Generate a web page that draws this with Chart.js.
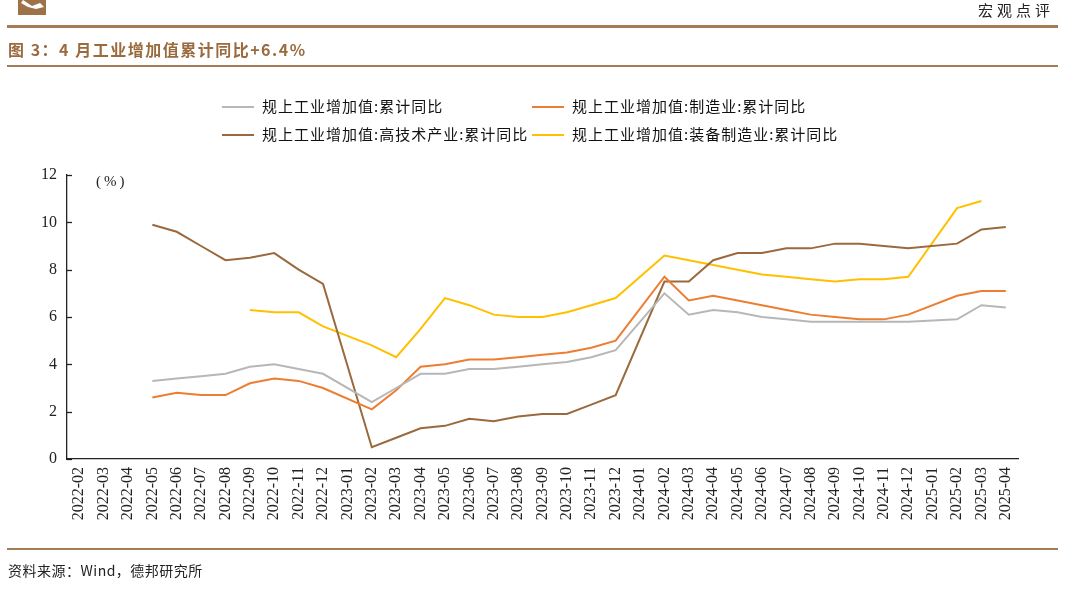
<!DOCTYPE html>
<html>
<head>
<meta charset="utf-8">
<script src="https://cdn.jsdelivr.net/npm/chart.js@4.4.1/dist/chart.umd.min.js"></script>
<style>
  html, body { margin: 0; padding: 0; background: #fff; }
  #wrap { position: relative; width: 1066px; height: 591px; overflow: hidden; font-family: "Noto Sans CJK SC", sans-serif; }
  #c { position: absolute; left: 0; top: 0; }
  .abs { position: absolute; white-space: nowrap; }
  .hline { position: absolute; left: 7px; width: 1051px; background: #a47d57; }
  .leg { position: absolute; height: 20px; font-size: 15px; color: #111; letter-spacing: 1px; line-height: 20px; }
  .leg i { display: inline-block; width: 32px; height: 2px; vertical-align: middle; margin-right: 8px; position: relative; top: -1px; }
</style>
</head>
<body>
<div id="wrap">
  <canvas id="c" width="1066" height="591"></canvas>
  <svg class="abs" style="left:18px;top:0px" width="28" height="15" viewBox="0 0 28 15">
    <rect x="0" y="0" width="28" height="15" fill="#9d7248"/>
    <path d="M5 0 L14 6 L22 3 L26 7 L18 9 L10 7 L3 3 Z" fill="#fff"/>
  </svg>
  <div class="abs" style="right:12px;top:-1px;font-size:15px;color:#222;letter-spacing:4px;">宏观点评</div>
  <div class="hline" style="top:25px;height:3px;"></div>
  <div class="abs" style="left:8px;top:37px;font-size:16px;font-weight:bold;color:#9a6b3f;letter-spacing:1.5px;">图 3：4 月工业增加值累计同比+6.4%</div>
  <div class="hline" style="top:65px;height:2px;"></div>

  <div class="leg" style="left:222px;top:96px;"><i style="background:#b7b7b7"></i>规上工业增加值:累计同比</div>
  <div class="leg" style="left:532px;top:96px;"><i style="background:#ed7d31"></i>规上工业增加值:制造业:累计同比</div>
  <div class="leg" style="left:222px;top:124px;"><i style="background:#9a6a3e"></i>规上工业增加值:高技术产业:累计同比</div>
  <div class="leg" style="left:532px;top:124px;"><i style="background:#ffc000"></i>规上工业增加值:装备制造业:累计同比</div>

  <div class="abs" style="left:96px;top:173px;font-size:15px;font-family:'Liberation Serif',serif;color:#222;letter-spacing:3px;">(%)</div>

  <div class="hline" style="top:548px;height:2px;"></div>
  <div class="abs" style="left:8px;top:560px;font-size:14px;color:#222;letter-spacing:0.5px;">资料来源：Wind，德邦研究所</div>
</div>
<script>
const categories = [
  "2022-02","2022-03","2022-04","2022-05","2022-06","2022-07","2022-08","2022-09","2022-10","2022-11","2022-12",
  "2023-01","2023-02","2023-03","2023-04","2023-05","2023-06","2023-07","2023-08","2023-09","2023-10","2023-11","2023-12",
  "2024-01","2024-02","2024-03","2024-04","2024-05","2024-06","2024-07","2024-08","2024-09","2024-10","2024-11","2024-12",
  "2025-01","2025-02","2025-03","2025-04"
];
const industryTotal = [null,null,null,3.3,3.4,3.5,3.6,3.9,4.0,3.8,3.6,
  null,2.4,3.0,3.6,3.6,3.8,3.8,3.9,4.0,4.1,4.3,4.6,
  null,7.0,6.1,6.3,6.2,6.0,5.9,5.8,5.8,5.8,5.8,5.8,
  null,5.9,6.5,6.4];
const manufacturing = [null,null,null,2.6,2.8,2.7,2.7,3.2,3.4,3.3,3.0,
  null,2.1,2.9,3.9,4.0,4.2,4.2,4.3,4.4,4.5,4.7,5.0,
  null,7.7,6.7,6.9,6.7,6.5,6.3,6.1,6.0,5.9,5.9,6.1,
  null,6.9,7.1,7.1];
const highTech = [null,null,null,9.9,9.6,9.0,8.4,8.5,8.7,8.0,7.4,
  null,0.5,0.9,1.3,1.4,1.7,1.6,1.8,1.9,1.9,2.3,2.7,
  null,7.5,7.5,8.4,8.7,8.7,8.9,8.9,9.1,9.1,9.0,8.9,
  null,9.1,9.7,9.8];
const equipment = [null,null,null,null,null,null,null,6.3,6.2,6.2,5.6,
  null,4.8,4.3,5.5,6.8,6.5,6.1,6.0,6.0,6.2,6.5,6.8,
  null,8.6,8.4,8.2,8.0,7.8,7.7,7.6,7.5,7.6,7.6,7.7,
  null,10.6,10.9,null];
const yTicks = [0,2,4,6,8,10,12];

const seriesNames = ["规上工业增加值:累计同比","规上工业增加值:制造业:累计同比","规上工业增加值:高技术产业:累计同比","规上工业增加值:装备制造业:累计同比"];
const seriesColors = ["#b7b7b7","#ed7d31","#9a6a3e","#ffc000"];
const seriesData = [industryTotal, manufacturing, highTech, equipment];

const innerTicks = {
  id: 'innerTicks',
  afterDraw(chart) {
    const y = chart.scales.y, ctx = chart.ctx;
    ctx.save();
    ctx.strokeStyle = '#222';
    ctx.lineWidth = 1.3;
    yTicks.forEach(v => {
      const py = Math.round(y.getPixelForValue(v)) + 0.5;
      ctx.beginPath();
      ctx.moveTo(y.right, py);
      ctx.lineTo(y.right + 5, py);
      ctx.stroke();
    });
    ctx.restore();
  }
};

new Chart(document.getElementById('c'), {
  type: 'line',
  data: {
    labels: categories,
    datasets: seriesData.map((d, i) => ({
      label: seriesNames[i],
      data: d,
      borderColor: seriesColors[i],
      backgroundColor: seriesColors[i],
      borderWidth: 2,
      pointRadius: 0,
      tension: 0,
      spanGaps: true
    }))
  },
  options: {
    responsive: false,
    animation: false,
    layout: { padding: { top: 175, right: 48, left: 0, bottom: 0 } },
    plugins: { legend: { display: false }, tooltip: { enabled: false } },
    scales: {
      x: {
        offset: true,
        grid: { display: false, drawTicks: false },
        border: { display: true, color: '#222', width: 1.3 },
        ticks: {
          autoSkip: false, maxRotation: 90, minRotation: 90, padding: 8,
          color: '#222', font: { family: 'Liberation Serif', size: 16 }
        },
        afterFit(s) { s.height = 132; }
      },
      y: {
        min: 0, max: 12,
        grid: { display: false, drawTicks: false },
        border: { display: true, color: '#222', width: 1.3 },
        afterBuildTicks(s) { s.ticks = yTicks.map(v => ({ value: v })); },
        ticks: { padding: 10, color: '#222', font: { family: 'Liberation Serif', size: 16 } },
        afterFit(s) { s.width = 67; }
      }
    }
  },
  plugins: [innerTicks]
});
</script>
</body>
</html>
